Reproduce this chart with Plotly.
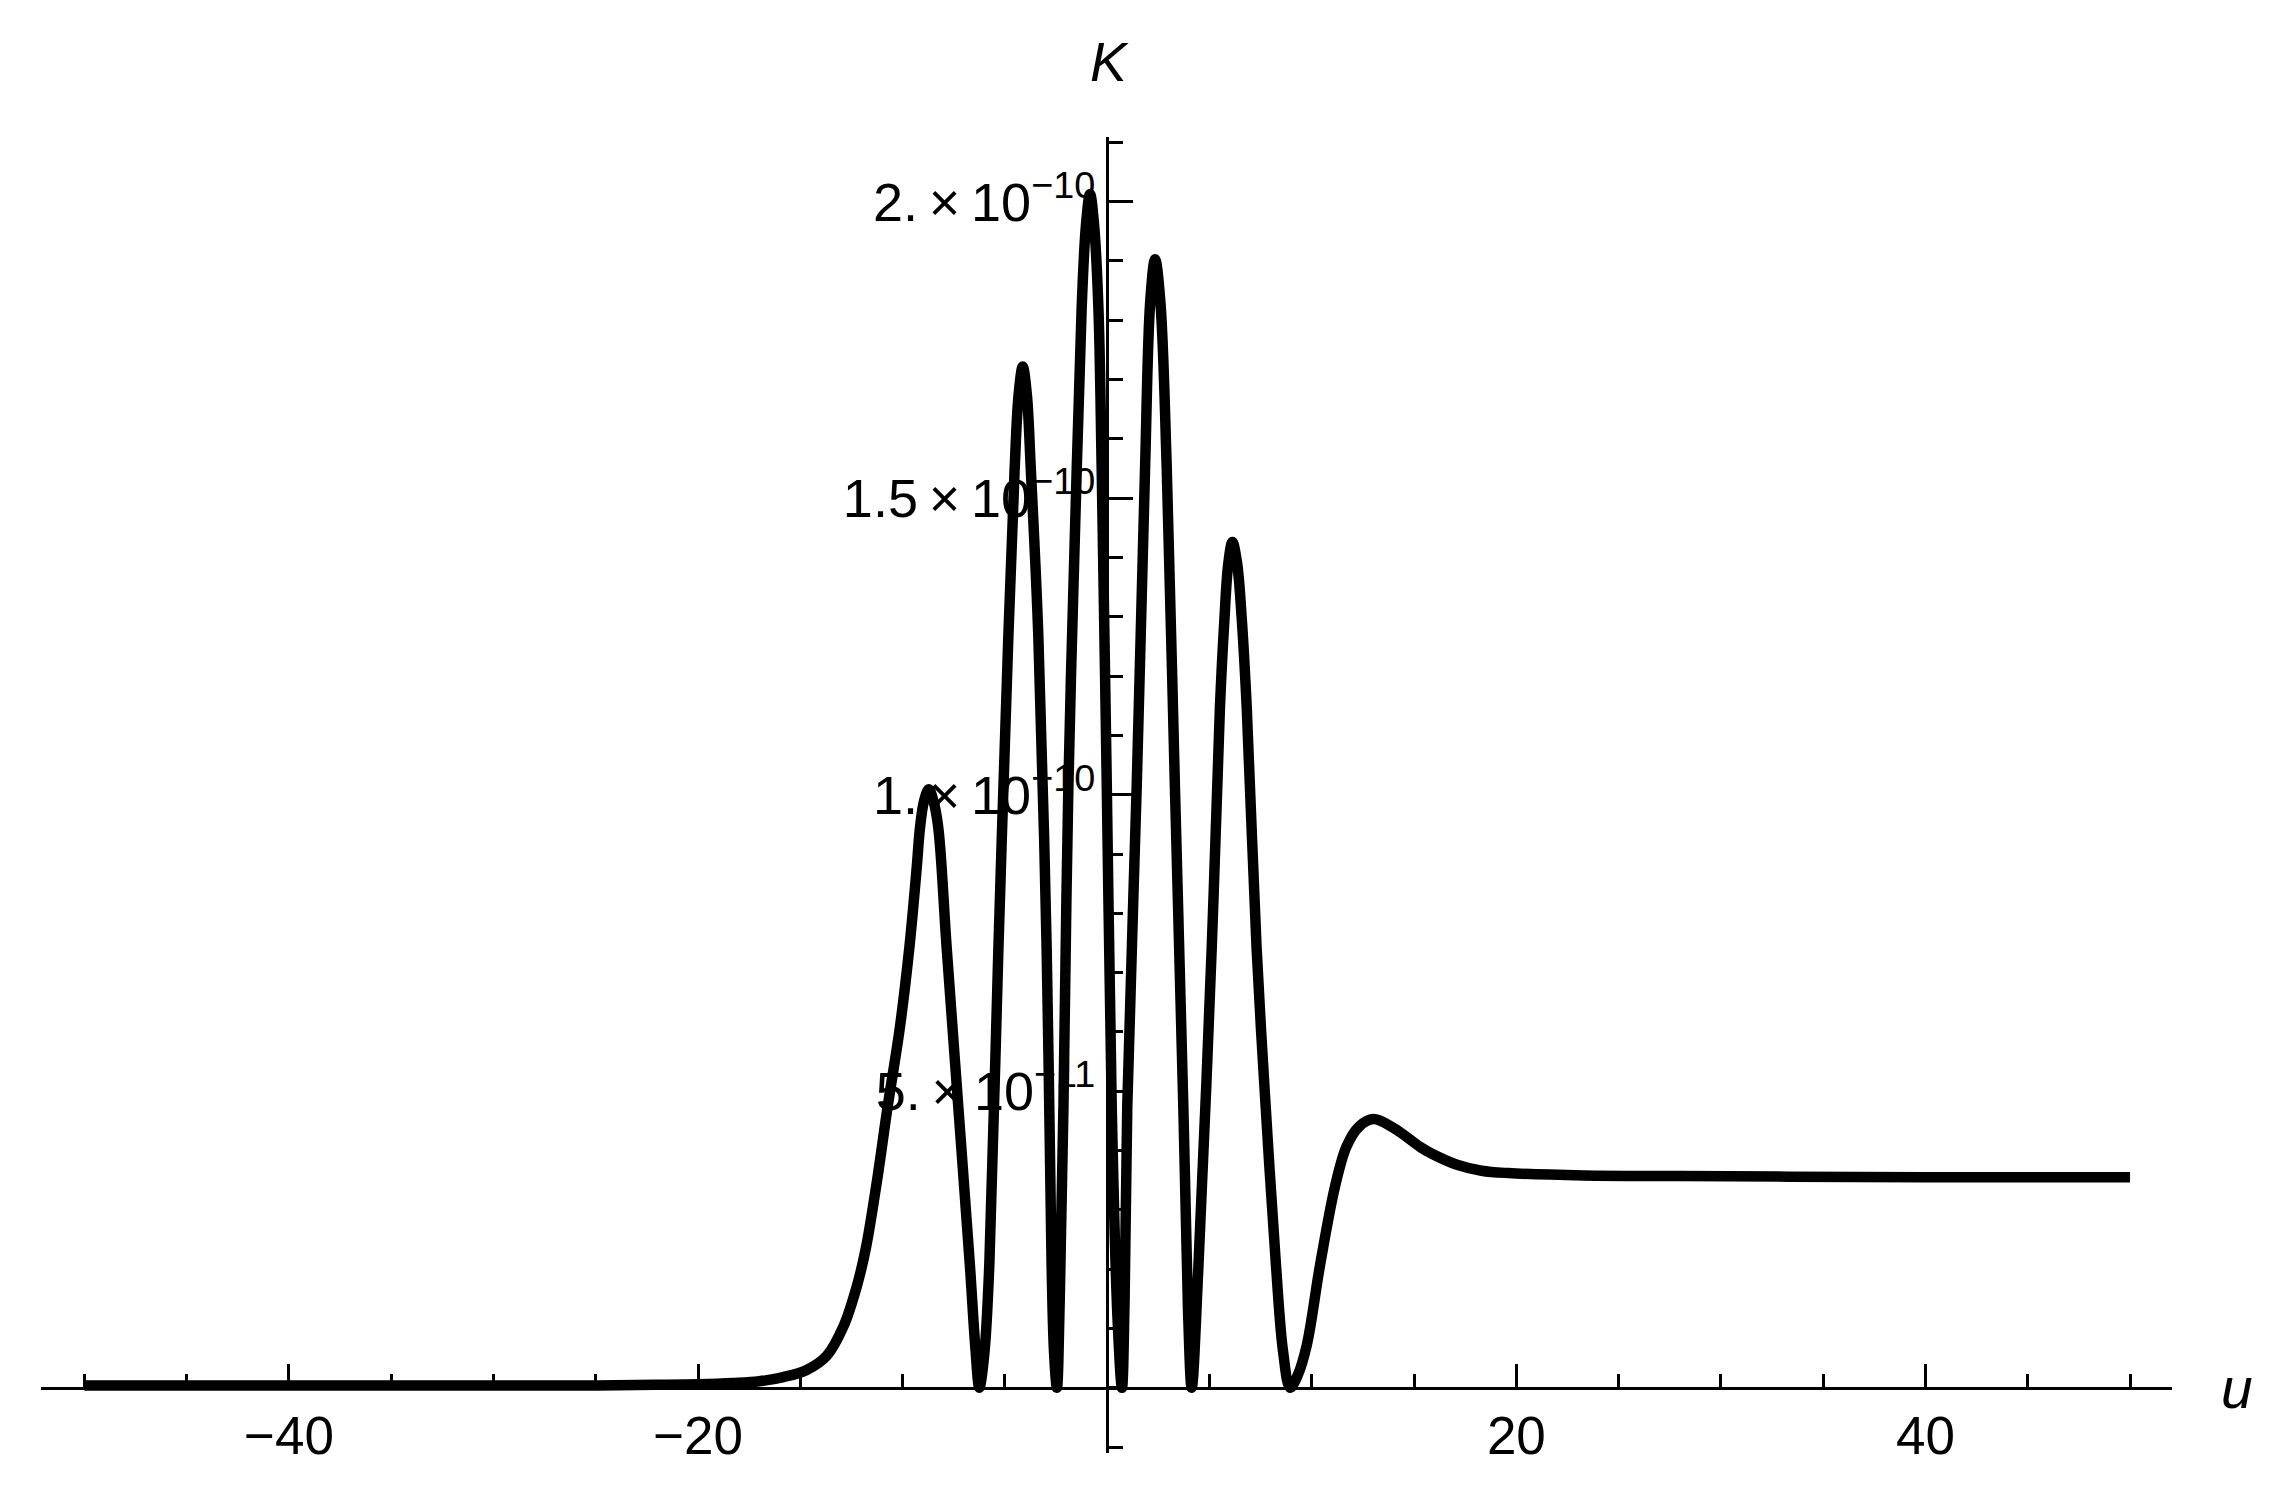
import plotly.graph_objects as go

# ---- data (u, K in units of 1e-10) ----
u_vals = [-50, -40, -30, -25, -22, -20, -18.3, -17, -15.83, -14.69, -13.71, -12.9,
          -12.25, -11.8, -11.25, -10.75, -10.13, -9.67, -9.31, -9.15, -8.95, -8.72,
          -8.5, -8.26, -7.85, -7.28, -6.71, -6.45, -6.25,
          -6.0, -5.76, -5.32, -4.83, -4.53, -4.33, -4.13, -3.93, -3.73, -3.37,
          -2.96, -2.72, -2.6, -2.46,
          -2.32, -2.14, -1.90, -1.49, -1.25, -1.04, -0.84, -0.64, -0.43, -0.27,
          -0.02, 0.22, 0.5, 0.72,
          0.85, 0.98, 1.44, 1.85, 2.1, 2.34, 2.6, 2.91, 3.31, 3.72, 3.95, 4.13,
          4.46, 5.11, 5.51, 5.72, 5.92, 6.12, 6.35, 6.57, 6.82, 7.3, 7.7, 8.25,
          8.6, 8.94,
          9.3, 9.75, 10.4, 11.14, 11.7, 12.3, 13.0, 14.0, 15.3, 15.85, 17.1, 18.3,
          19.6, 23.3, 28, 33.3, 40, 50]
K_e10 = [0.004, 0.004, 0.004, 0.004, 0.005, 0.006, 0.008, 0.011, 0.018, 0.03, 0.054, 0.103,
         0.17, 0.235, 0.35, 0.47, 0.609, 0.743, 0.878, 0.945, 0.99, 1.009,
         0.99, 0.945, 0.743, 0.474, 0.205, 0.07, 0.0,
         0.06, 0.21, 0.74, 1.27, 1.545, 1.675, 1.722, 1.675, 1.545, 1.27,
         0.74, 0.21, 0.06, 0.0,
         0.15, 0.474, 1.012, 1.55, 1.82, 1.96, 2.013, 1.96, 1.82, 1.55,
         1.012, 0.474, 0.12, 0.0,
         0.15, 0.474, 1.012, 1.55, 1.83, 1.903, 1.83, 1.55, 1.012, 0.474, 0.13, 0.0,
         0.206, 0.743, 1.147, 1.29, 1.39, 1.426, 1.39, 1.30, 1.147, 0.743, 0.5, 0.206,
         0.06, 0.0,
         0.02, 0.071, 0.206, 0.34, 0.407, 0.44, 0.453, 0.438, 0.406, 0.395, 0.376, 0.366,
         0.362, 0.358, 0.357, 0.356, 0.355, 0.355]
K_vals = [v * 1e-10 for v in K_e10]

x_tickvals = [-40, -20, 20, 40]
x_ticktext = ["\u221240", "\u221220", "20", "40"]
x_minor = [-50, -45, -35, -30, -25, -15, -10, -5, 5, 10, 15, 25, 30, 35, 45, 50]

y_tickvals = [0.5e-10, 1.0e-10, 1.5e-10, 2.0e-10]
y_ticktext = ["5.\u2009\u00d7\u200910<sup>\u221211</sup>",
              "1.\u2009\u00d7\u200910<sup>\u221210</sup>",
              "1.5\u2009\u00d7\u200910<sup>\u221210</sup>",
              "2.\u2009\u00d7\u200910<sup>\u221210</sup>"]
y_minor = [k * 1e-11 for k in range(-1, 22)]

x_range = [-52.12, 52.05]
y_range = [-0.110e-10, 2.109e-10]

FONT = "Liberation Sans, Arial, sans-serif"

fig = go.Figure()
fig.add_trace(go.Scatter(
    x=u_vals, y=K_vals, mode="lines",
    line=dict(color="black", width=10.5, shape="spline", smoothing=1.0),
    showlegend=False, hoverinfo="skip"))

x_pos = (0 - y_range[0]) / (y_range[1] - y_range[0])
y_pos = (0 - x_range[0]) / (x_range[1] - x_range[0])

fig.update_layout(
    width=2268, height=1479,
    margin=dict(l=33, r=104, t=129, b=34, pad=0),
    paper_bgcolor="white", plot_bgcolor="white",
    font=dict(family=FONT, size=53, color="black"),
    xaxis=dict(range=x_range, domain=[0, 1], anchor="free", position=x_pos,
               showgrid=False, zeroline=False, showline=True, linecolor="black",
               linewidth=3.3, ticks="inside", ticklen=23, tickwidth=3, tickcolor="black",
               tickmode="array", tickvals=x_tickvals, ticktext=x_ticktext,
               tickfont=dict(family=FONT, size=53, color="black"),
               minor=dict(ticks="inside", ticklen=13, tickwidth=3, tickcolor="black",
                          tickmode="array", tickvals=x_minor, showgrid=False)),
    yaxis=dict(range=y_range, domain=[0, 1], anchor="free", position=y_pos, side="left",
               showgrid=False, zeroline=False, showline=True, linecolor="black",
               linewidth=3.3, ticks="inside", ticklen=24, tickwidth=3, tickcolor="black",
               tickmode="array", tickvals=y_tickvals, ticktext=y_ticktext,
               tickfont=dict(family=FONT, size=54, color="black"),
               minor=dict(ticks="inside", ticklen=14, tickwidth=3, tickcolor="black",
                          tickmode="array", tickvals=y_minor, showgrid=False)),
    annotations=[
        dict(text="<i>K</i>", x=0.1, xref="x", y=1.057, yref="paper",
             showarrow=False, xanchor="center", yanchor="middle",
             font=dict(family=FONT, size=55, color="black")),
        dict(text="<i>u</i>", x=1.0303, xref="paper", y=0, yref="y",
             showarrow=False, xanchor="center", yanchor="middle",
             font=dict(family=FONT, size=57, color="black")),
    ],
)

fig.write_html("out.html")
